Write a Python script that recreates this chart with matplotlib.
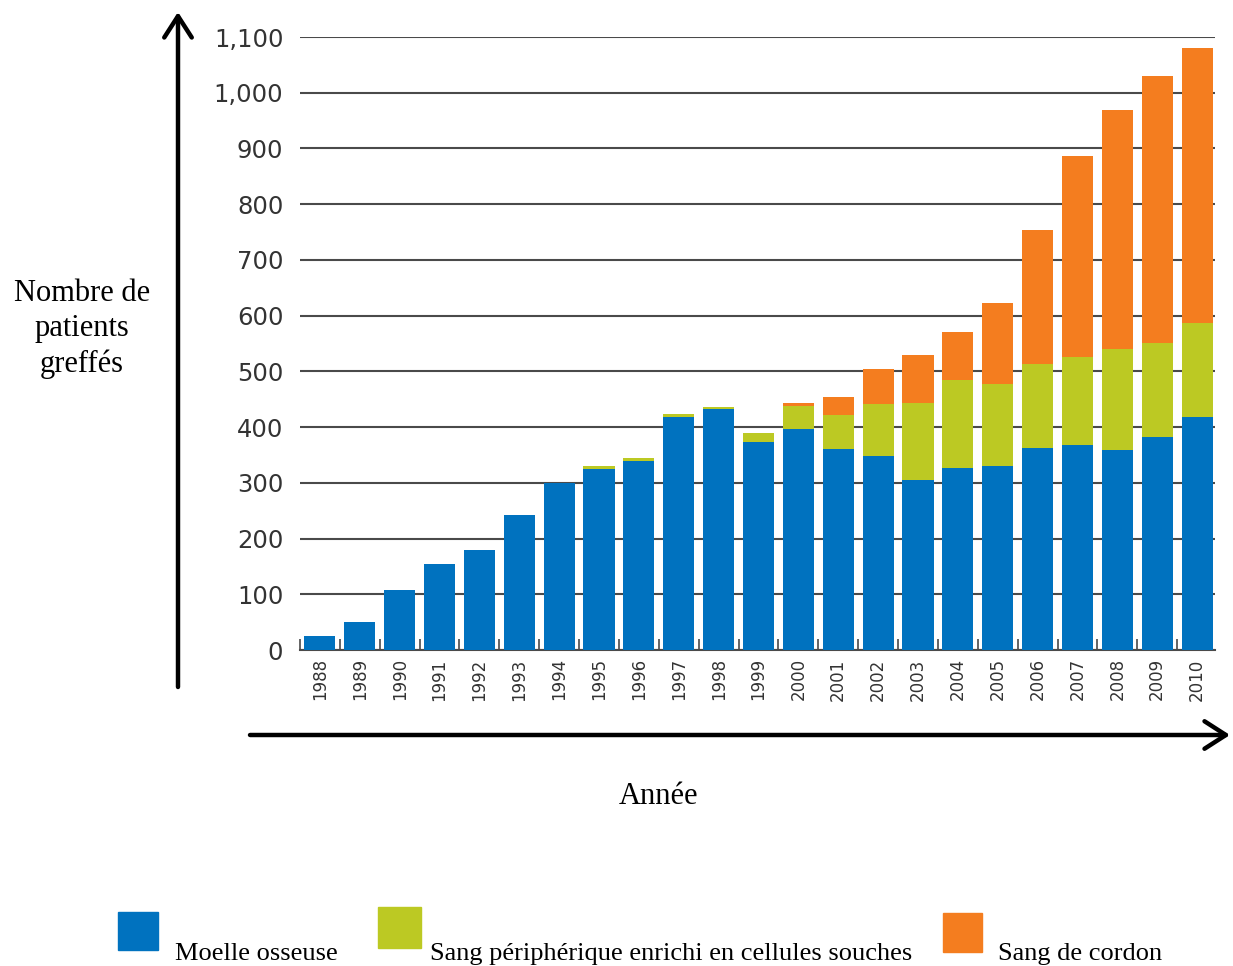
import numpy as np
import matplotlib
matplotlib.use("Agg")
import matplotlib.pyplot as plt
from matplotlib.patches import Rectangle

# Greffes par année et par source de cellules
annees = list(range(1988, 2011))
moelle = [26, 51, 108, 154, 179, 243, 300, 325, 340, 418, 432, 374, 396,
          361, 348, 305, 326, 330, 362, 368, 359, 383, 419]
sang_periph = [0, 0, 0, 0, 0, 0, 0, 5, 5, 5, 4, 15, 41,
               60, 94, 139, 158, 148, 151, 157, 182, 168, 168]
cordon = [0, 0, 0, 0, 0, 0, 0, 0, 0, 0, 0, 0, 6,
          33, 63, 86, 86, 145, 241, 361, 428, 479, 494]
yticks = list(range(0, 1101, 100))
legende = ["Moelle osseuse", "Sang périphérique enrichi en cellules souches", "Sang de cordon"]
couleurs = ["#0072BF", "#BCC923", "#F47D1F"]

W, H = 1233, 966
fig = plt.figure(figsize=(W / 100, H / 100), dpi=100)
ax = fig.add_axes([300 / W, 1 - 650 / H, 915 / W, 613 / H])

x = np.arange(len(annees))
moelle = np.array(moelle)
sang_periph = np.array(sang_periph)
cordon = np.array(cordon)
larg = 0.78
ax.bar(x, moelle, larg, color=couleurs[0], zorder=3)
ax.bar(x, sang_periph, larg, bottom=moelle, color=couleurs[1], zorder=3)
ax.bar(x, cordon, larg, bottom=moelle + sang_periph, color=couleurs[2], zorder=3)

ax.set_xlim(-0.5, 22.45)
ax.set_ylim(0, 1100)
ax.set_yticks(yticks)
ax.set_yticklabels(["{:,}".format(v) for v in yticks], fontsize=17.5, color="#333333")
ax.yaxis.grid(True, color="#4a4a4a", linewidth=1.5, zorder=1)
ax.set_xticks(x)
ax.set_xticklabels([str(a) for a in annees], rotation=90, fontsize=12, color="#333333")
ax.set_xticks(x - 0.5, minor=True)
ax.tick_params(axis="x", which="major", length=0, pad=6)
ax.tick_params(axis="x", which="minor", direction="in", length=8, width=1.2, color="#4a4a4a")
ax.tick_params(axis="y", length=0, pad=12)
for s in ["top", "right", "left"]:
    ax.spines[s].set_visible(False)
ax.spines["bottom"].set_color("#4a4a4a")
ax.spines["bottom"].set_linewidth(1.5)

# flèches des axes
fleche = dict(arrowstyle="->,head_length=0.7,head_width=0.45", lw=3.2, color="black",
              mutation_scale=22, shrinkA=0, shrinkB=0)
fig.add_artist(plt.Annotation("", xy=(178, H - 12), xytext=(178, H - 687),
                              xycoords="figure pixels", textcoords="figure pixels",
                              arrowprops=fleche))
fig.add_artist(plt.Annotation("", xy=(1230, H - 735), xytext=(250, H - 735),
                              xycoords="figure pixels", textcoords="figure pixels",
                              arrowprops=fleche))

serif = "Liberation Serif"
fig.text(82 / W, 1 - 329 / H, "Nombre de\npatients\ngreffés", ha="center", va="center",
         multialignment="center", fontsize=22, family=serif, linespacing=1.27)
fig.text(658 / W, 1 - 796 / H, "Année", ha="center", va="center", fontsize=22, family=serif)

# légende
carres = [(118, 912, 40, 38), (378, 907, 43, 41), (943, 913, 39, 39)]
textes_x = [175, 430, 998]
for (cx, cy, cw, ch), tx, lab, c in zip(carres, textes_x, legende, couleurs):
    fig.add_artist(Rectangle((cx / W, 1 - (cy + ch) / H), cw / W, ch / H,
                             transform=fig.transFigure, color=c))
    fig.text(tx / W, 1 - 960 / H, lab, ha="left", va="baseline", fontsize=19, family=serif)

fig.savefig("out.png", dpi=100)
